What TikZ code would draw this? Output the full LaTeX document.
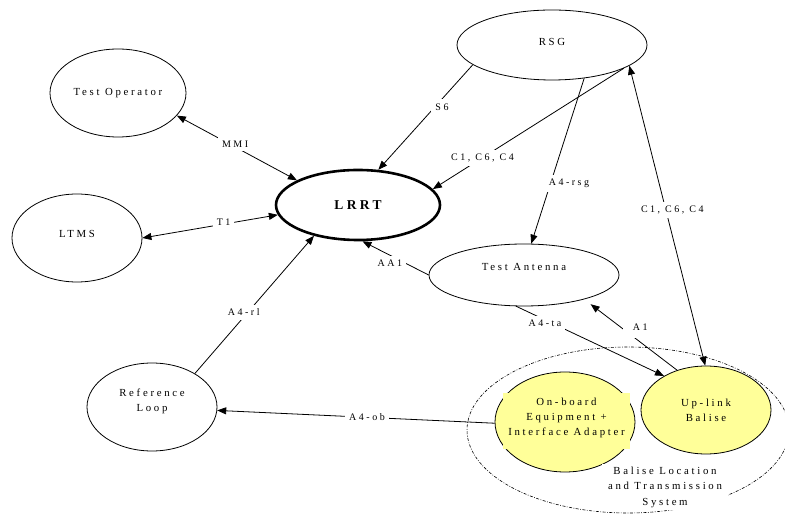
\documentclass[tikz,border=0pt]{standalone}
\usepackage{fontspec}
\setmainfont{Liberation Serif}[LetterSpace=25]
\usetikzlibrary{shapes.geometric,arrows.meta}
\definecolor{balyellow}{RGB}{255,255,153}
\begin{document}
\begin{tikzpicture}[x=1pt,y=1pt,
  >={Triangle[length=9pt,width=7pt]},
  ent/.style={ellipse, draw, line width=0.8pt, inner sep=0pt, align=center,
    font=\fontsize{10.8}{15}\selectfont},
  arr/.style={line width=0.8pt},
  lbl/.style={fill=white, inner sep=4pt, font=\fontsize{10}{12}\selectfont}
]
\useasboundingbox (0,0) rectangle (785,514);
\fill[white] (0,0) rectangle (785,514);

% system boundary
\node[ellipse, draw, line width=0.6pt, dash pattern=on 3pt off 1.5pt on 0.8pt off 1.5pt,
  minimum width=322pt, minimum height=166pt] (blts) at (628,84) {};

% entities
\node[ent, minimum width=136pt, minimum height=88pt] (top) at (118,421) {Test Operator};
\node[ent, minimum width=130pt, minimum height=88pt, text depth=8pt] (ltms) at (77,276) {LTMS};
\node[ent, line width=2.6pt, minimum width=164pt, minimum height=70pt,
  font=\fontsize{13.5}{15}\selectfont\bfseries] (lrrt) at (358,309) {LRRT};
\node[ent, minimum width=190pt, minimum height=70pt, text depth=6pt] (rsg) at (552,469) {RSG};
\node[ent, minimum width=190pt, minimum height=62pt, text depth=16pt] (ant) at (524,239) {Test Antenna};
\node[ent, minimum width=130pt, minimum height=88pt, text depth=13pt] (refl) at (152,107) {Reference\\Loop};
\node[ent, fill=balyellow, minimum width=140pt, minimum height=100pt] (obe) at (565,92) {};
\node[fill=balyellow, minimum width=127pt, minimum height=56pt, inner sep=0pt, align=center,
  text depth=8pt, font=\fontsize{10.8}{15}\selectfont] (obetext) at (566.5,93)
  {On-board\\Equipment +\\Interface Adapter};
\node[ent, fill=balyellow, minimum width=130pt, minimum height=88pt] (upb) at (706,104) {Up-link\\Balise};
\node[fill=white, inner xsep=6pt, inner ysep=3pt, align=center,
  font=\fontsize{10.8}{15.5}\selectfont] (bltstext) at (665,27)
  {Balise Location\\and Transmission\\System};

% connectors
\draw[arr,<->] (lrrt.158) -- node[lbl,pos=0.515,yshift=3pt]{MMI} (top.339);
\draw[arr,<->] (lrrt.187) -- node[lbl,pos=0.4,yshift=2pt]{T1} (ltms.0);
\draw[arr,->] (rsg.194) -- node[lbl,pos=0.4,xshift=7pt]{S6} (lrrt.60);
\draw[arr,->] (rsg.342) -- node[lbl,pos=0.74]{C1, C6, C4} (lrrt.12);
\draw[arr,->] (rsg.314) -- node[lbl,pos=0.636,xshift=18.5pt]{A4-rsg} (ant.77.5);
\draw[arr,<->] (upb.91) -- node[lbl,pos=0.52,xshift=6.5pt]{C1, C6, C4} (rsg.345);
\draw[arr,->] (ant.180) -- node[lbl,pos=0.585,yshift=-8pt]{AA1} (lrrt.277);
\draw[arr,->] (refl.38.7) -- node[lbl,pos=0.41,yshift=5pt]{A4-rl} (lrrt.215);
\draw[arr,->] (ant.256) -- node[lbl,pos=0.195,yshift=-3pt]{A4-ta} (upb.141);
\draw[arr,->,shorten >=8pt] (upb.126) -- node[lbl,pos=0.57,xshift=16pt,yshift=3pt,
  minimum width=34pt,minimum height=22pt]{A1} (ant.338);
\draw[arr,->] (obe.181.7) -- node[lbl,pos=0.46]{A4-ob} (refl.357.5);
\end{tikzpicture}
\end{document}
